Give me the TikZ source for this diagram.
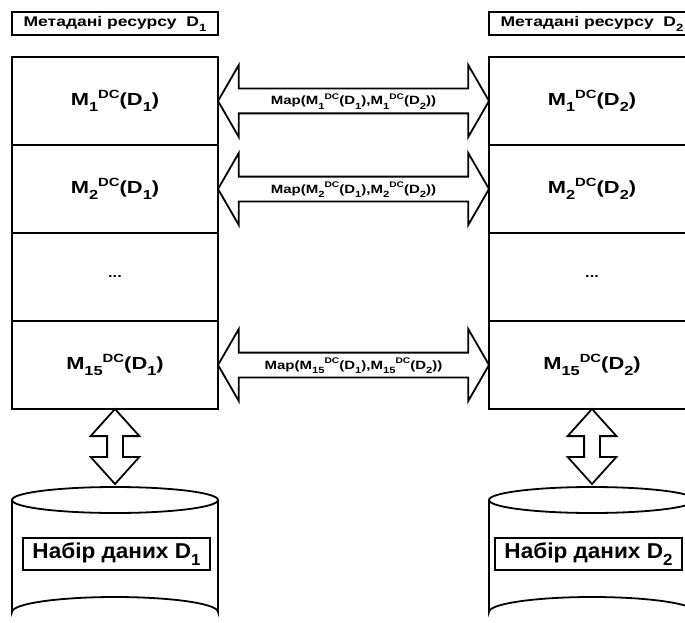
\documentclass[tikz,border=0pt]{standalone}
\usepackage{fontspec}
\setmainfont{Liberation Sans}[FakeStretch=1.25]
\newfontfamily\setfont{Liberation Sans}[FakeStretch=1.05]
\usetikzlibrary{shapes.arrows,positioning}

\newcommand{\lo}[1]{\raisebox{-0.35em}{\scalebox{0.75}{#1}}}
\newcommand{\hi}[1]{\raisebox{0.42em}{\scalebox{0.68}{#1}}}
\newcommand{\Mdc}[2]{M\lo{#1}\hi{DC}(D\lo{#2})}

\begin{document}
\begin{tikzpicture}[x=1pt, y=-1pt, line width=1.8pt,
  title/.style={draw, rectangle, minimum width=206pt, minimum height=23pt,
                inner sep=0pt, outer sep=0pt, font=\bfseries\fontsize{14}{16}\selectfont},
  cell/.style={draw, rectangle, minimum width=206pt, minimum height=88pt,
               inner sep=0pt, outer sep=0pt, font=\bfseries\fontsize{17.5}{20}\selectfont},
  map/.style={draw, double arrow, minimum height=271pt, double arrow head extend=23.5pt,
              double arrow tip angle=120, inner sep=0pt, outer sep=0pt,
              text height=15.5pt, text depth=7.5pt, font=\bfseries\fontsize{12}{14}\selectfont},
  link/.style={draw, double arrow, rotate=-90, anchor=west, minimum height=75pt,
               double arrow head extend=16.5pt, double arrow tip angle=84,
               inner sep=7pt, outer sep=0pt},
  dataset/.style={draw, rectangle, minimum width=187pt, minimum height=32pt,
                  inner sep=0pt, outer sep=0pt, font=\setfont\bfseries\fontsize{21.5}{24}\selectfont}]

  \useasboundingbox (0,0) rectangle (685,623);
  \clip (0,0) rectangle (685,623);

  \node[title] (lt) at (115,23.5) {Метадані ресурсу~ D\lo{1}};
  \node[title] (rt) at (592,23.5) {Метадані ресурсу~ D\lo{2}};

  \node[cell] (l1) at (115,101) {\Mdc{1}{1}};
  \node[cell] (l2) at (115,189) {\Mdc{2}{1}};
  \node[cell] (l3) at (115,277) {\fontsize{13}{14}\selectfont...};
  \node[cell] (l4) at (115,365) {\Mdc{15}{1}};
  \node[cell] (r1) at (592,101) {\Mdc{1}{2}};
  \node[cell] (r2) at (592,189) {\Mdc{2}{2}};
  \node[cell] (r3) at (592,277) {\fontsize{13}{14}\selectfont...};
  \node[cell] (r4) at (592,365) {\Mdc{15}{2}};

  \node[map, right=0pt of l1] (m1) {Map(\Mdc{1}{1},\Mdc{1}{2})};
  \node[map, right=0pt of l2] (m2) {Map(\Mdc{2}{1},\Mdc{2}{2})};
  \node[map, right=0pt of l4] (m4) {Map(\Mdc{15}{1},\Mdc{15}{2})};

  \node[link] (a1) at (l4.south) {};
  \node[link] (a2) at (r4.south) {};

  \draw (12,500) -- (12,612) arc[start angle=180, end angle=360, x radius=103, y radius=15] -- (218,500);
  \draw (115,500) ellipse [x radius=103, y radius=13];
  \draw (489,500) -- (489,612) arc[start angle=180, end angle=360, x radius=103, y radius=15] -- (695,500);
  \draw (592,500) ellipse [x radius=103, y radius=13];

  \node[dataset] (d1) at (116.5,554) {Набір даних D\lo{1}};
  \node[dataset] (d2) at (588.5,554) {Набір даних D\lo{2}};

\end{tikzpicture}
\end{document}
